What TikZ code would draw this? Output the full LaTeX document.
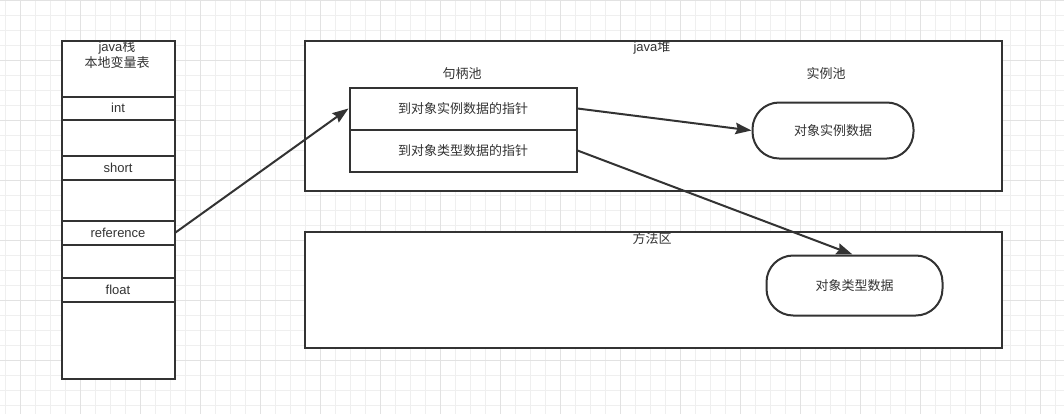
\documentclass[tikz,border=0pt]{standalone}
\usepackage{fontspec}
\setmainfont{Liberation Sans}
\newfontfamily\cjk{Noto Sans CJK SC}
\usetikzlibrary{arrows.meta}
\newlength\px
\setlength\px{0.75pt}
\definecolor{ink}{HTML}{333333}
\definecolor{gminor}{HTML}{EFEFEF}
\definecolor{gmajor}{HTML}{E2E2E2}
\begin{document}
\begin{tikzpicture}[x=0.75pt,y=-0.75pt,
  txt/.style={font=\fontsize{9.75pt}{12pt}\selectfont, text=ink, inner sep=0pt},
  cell/.style={draw=ink, line width=1.5pt, fill=white, anchor=north west, inner sep=0pt,
    font=\fontsize{9.75pt}{12pt}\selectfont, text=ink},
  rbox/.style={cell, rounded corners=20pt},
  conn/.style={draw=ink, line width=1.5pt, -{Stealth[length=12pt,width=8.5pt,inset=1.5pt]}}
]
\useasboundingbox (0,0) rectangle (1064,414);
\fill[white] (0,0) rectangle (1064,414);
% grid
\foreach \i in {0,...,70} {\draw[gminor, line width=0.75pt] (5.7+15*\i,0) -- (5.7+15*\i,414);}
\foreach \j in {0,...,27} {\draw[gminor, line width=0.75pt] (0,15*\j) -- (1064,15*\j);}
\foreach \i in {0,...,17} {\draw[gmajor, line width=0.75pt] (20.7+60*\i,0) -- (20.7+60*\i,414);}
\foreach \j in {0,...,6} {\draw[gmajor, line width=0.75pt] (0,60*\j) -- (1064,60*\j);}

% java stack
\node[cell, minimum width=113\px, minimum height=56\px] (hdr) at (60.5,39.5) {};
\node[txt, anchor=north, align=center] (hdrtxt) at (117,40) {java{\cjk 栈}\\{\cjk 本地变量表}};
\node[cell, minimum width=113\px, minimum height=23\px] (int) at (60.5,95.5) {int};
\node[cell, minimum width=113\px, minimum height=36\px] (e1) at (60.5,118.5) {};
\node[cell, minimum width=113\px, minimum height=24\px] (short) at (60.5,154.5) {short};
\node[cell, minimum width=113\px, minimum height=41\px] (e2) at (60.5,178.5) {};
\node[cell, minimum width=113\px, minimum height=24\px] (ref) at (60.5,219.5) {reference};
\node[cell, minimum width=113\px, minimum height=33\px] (e3) at (60.5,243.5) {};
\node[cell, minimum width=113\px, minimum height=24\px] (flt) at (60.5,276.5) {float};
\node[cell, minimum width=113\px, minimum height=77\px] (e4) at (60.5,300.5) {};

% java heap
\node[cell, minimum width=697\px, minimum height=150\px] (heap) at (303.5,39.5) {};
\node[txt] (heaplbl) at (652,47) {java{\cjk 堆}};
\node[txt] (hplbl) at (462,74) {\cjk 句柄池};
\node[cell, minimum width=227\px, minimum height=42\px] (p1) at (348.5,86.5) {\cjk 到对象实例数据的指针};
\node[cell, minimum width=227\px, minimum height=42\px] (p2) at (348.5,128.5) {\cjk 到对象类型数据的指针};
\node[txt] (iplbl) at (826,74) {\cjk 实例池};
\node[rbox, minimum width=161\px, minimum height=56\px] (inst) at (751.5,101.5) {\cjk 对象实例数据};

% method area
\node[cell, minimum width=697\px, minimum height=116\px] (meth) at (303.5,230.5) {};
\node[txt] (methlbl) at (652,239) {\cjk 方法区};
\node[rbox, minimum width=176\px, minimum height=60\px] (type) at (765.5,254.5) {\cjk 对象类型数据};

% connectors
\draw[conn] (ref.east) -- (p1.west);
\draw[conn] (p1.east) -- (inst.west);
\draw[conn] (p2.east) -- ([xshift=-1.5pt]type.north);
\end{tikzpicture}
\end{document}
